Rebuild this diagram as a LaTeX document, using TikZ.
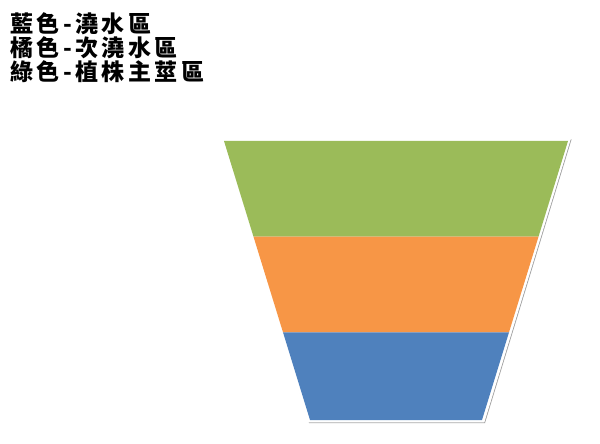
\documentclass[tikz,border=0pt]{standalone}
\usepackage{fontspec}
\newfontfamily\cjk[LetterSpace=15]{Noto Sans CJK TC}
\usepackage{tikz}
\usetikzlibrary{positioning}
\definecolor{stem}{RGB}{155,187,89}
\definecolor{halfwater}{RGB}{247,150,70}
\definecolor{water}{RGB}{79,129,189}
\definecolor{rim}{RGB}{160,160,160}
\tikzset{
    band/.style={draw=none},
    frame/.style={fill=white, draw=white},
    shade/.style={fill=rim},
    legend/.style={anchor=north west, align=left, inner sep=0pt, font=\cjk\bfseries\fontsize{11.5}{11}\selectfont}
}

\begin{document}
\begin{tikzpicture}[x=0.5pt, y=-0.5pt]
    \useasboundingbox[fill=white] (0,0) rectangle (600,444);

    % Legend
    \node[legend] (key) at (10,12) {藍色-澆水區\\橘色-次澆水區\\綠色-植株主莖區};

    % Funnel frame and shadow
    \fill[shade] (222.5,139.5) -- (571.5,139.5) -- (485,423) -- (309,423) -- cycle;
    \fill[frame] (221.5,138.5) -- (570.5,138.5) -- (484,422) -- (308,422) -- cycle;

    % Bands
    \fill[band, stem] (224,141) -- (568,141) -- (538.5,236.7) -- (253.5,236.7) -- cycle;
    \fill[band, halfwater] (253.5,236.7) -- (538.5,236.7) -- (509,332.3) -- (283,332.3) -- cycle;
    \fill[band, water] (283,332.3) -- (509,332.3) -- (482,420) -- (310,420) -- cycle;
\end{tikzpicture}
\end{document}
